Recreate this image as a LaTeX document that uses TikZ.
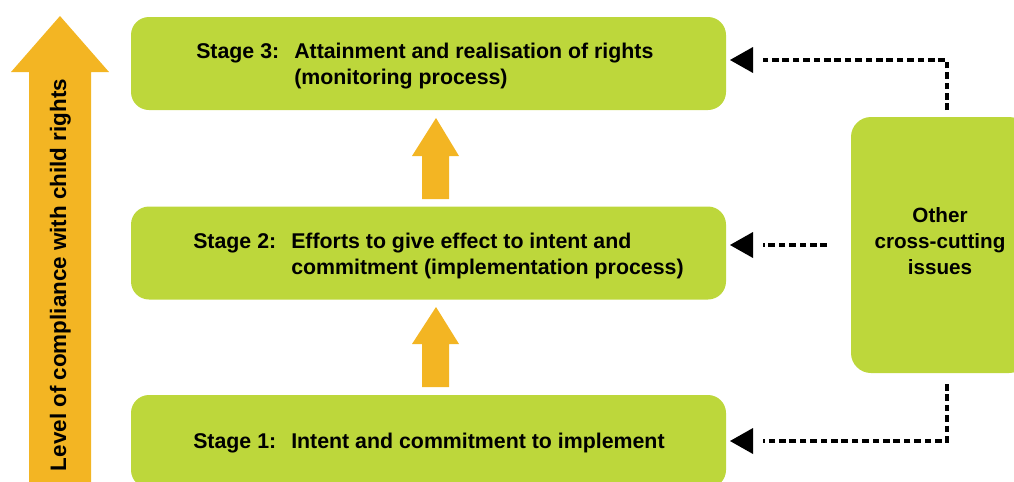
\documentclass[tikz,border=0pt]{standalone}
\usepackage{fontspec}
\setmainfont{Liberation Sans}
\definecolor{stagegreen}{RGB}{189,215,59}
\definecolor{riseorange}{RGB}{243,181,35}
\begin{document}
\begin{tikzpicture}[x=0.75pt,y=-0.75pt,
  stagebox/.style={fill=stagegreen, rounded corners=13.5pt, inner sep=0pt,
    minimum width=595*0.75pt, minimum height=93*0.75pt},
  sidebox/.style={fill=stagegreen, rounded corners=15pt, inner sep=0pt,
    minimum width=178*0.75pt, minimum height=256*0.75pt},
  lbl/.style={font=\fontsize{16}{19.5}\selectfont\bfseries, inner sep=0pt},
  sidelbl/.style={font=\fontsize{15.5}{19.5}\selectfont\bfseries, inner sep=0pt},
  levellbl/.style={font=\fontsize{16.8}{20}\selectfont\bfseries, inner sep=0pt},
  dashline/.style={line width=2.6pt, dash pattern=on 5pt off 2.8pt},
  pics/headleft/.style={code={\fill (0,-13) -- (-23,0) -- (0,13) -- cycle;}}
]
\useasboundingbox (0,0) rectangle (1014,482);
\clip (0,0) rectangle (1014,482);

% upward arrow for the level of compliance
\fill[riseorange] (60,16) -- (109,72) -- (91,72) -- (91,495) -- (29,495)
  -- (29,72) -- (11,72) -- cycle;
\node[levellbl, rotate=90, anchor=base] (level) at (66,275)
  {Level of compliance with child rights};

% stage boxes
\node[stagebox] (s3) at (428.5,63.5) {};
\node[stagebox] (s2) at (428.5,253) {};
\node[stagebox] (s1) at (428.5,441.5) {};

\node[lbl, anchor=base west] (s3l) at (196,58) {Stage 3:};
\node[lbl, anchor=base west] (s3t) at (294,58)
  {\begin{tabular}[t]{@{}l@{}}Attainment and realisation of rights\\(monitoring process)\end{tabular}};
\node[lbl, anchor=base west] (s2l) at (193,248) {Stage 2:};
\node[lbl, anchor=base west] (s2t) at (291,248)
  {\begin{tabular}[t]{@{}l@{}}Efforts to give effect to intent and\\commitment (implementation process)\end{tabular}};
\node[lbl, anchor=base west] (s1l) at (193,448) {Stage 1:};
\node[lbl, anchor=base west] (s1t) at (291,448) {Intent and commitment to implement};

% progress arrows between the stages
\fill[riseorange] (436,118) -- (459,156) -- (449,156) -- (449,199) -- (422,199)
  -- (422,156) -- (412,156) -- cycle;
\fill[riseorange] (436,307) -- (459,344) -- (449,344) -- (449,387) -- (422,387)
  -- (422,344) -- (412,344) -- cycle;

% side box
\node[sidebox] (oth) at (940,245) {};
\node[sidelbl, anchor=base] (otht) at (940,222)
  {\begin{tabular}[t]{@{}c@{}}Other\\cross-cutting\\issues\end{tabular}};

% dashed links from the side box to the stages
\coordinate (a3) at (947,110);
\coordinate (b3) at (947,60);
\coordinate (e3) at (763,60);
\coordinate (a2) at (827,245);
\coordinate (e2) at (763,245);
\coordinate (a1) at (947,384);
\coordinate (b1) at (947,441);
\coordinate (e1) at (763,441);
\draw[dashline] (a3) -- (b3) -- (e3);
\draw[dashline] (a2) -- (e2);
\draw[dashline] (a1) -- (b1) -- (e1);
\pic at (753,60) {headleft};
\pic at (753,245) {headleft};
\pic at (753,441) {headleft};
\end{tikzpicture}
\end{document}
